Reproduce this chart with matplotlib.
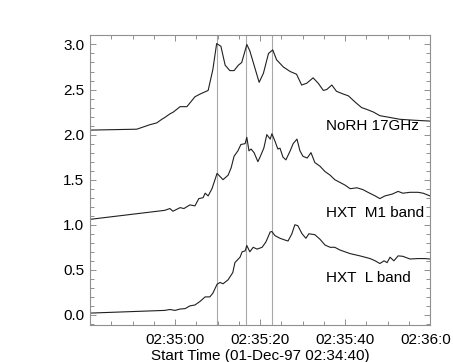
import numpy as np
import matplotlib
matplotlib.use('Agg')
import matplotlib.pyplot as plt
from matplotlib.ticker import MultipleLocator
from matplotlib.transforms import ScaledTranslation

plt.rcParams['font.family'] = ['Liberation Sans', 'DejaVu Sans']

# seconds after 02:34:40
norh_t = [0, 11.0, 14.1, 15.7, 16.9, 17.6, 18.8, 19.6, 21.2, 22.8, 24.7, 25.9, 27.8, 28.9,
          29.8, 30.8, 31.8, 32.9, 33.9, 34.9, 35.7, 36.9, 37.6, 39.8, 40.8, 42.0, 43.0,
          43.9, 45.5, 47.1, 48.6, 49.8, 51.0, 52.5, 53.7, 54.9, 55.7, 56.9, 58.0, 59.6,
          60.8, 62.4, 63.9, 65.1, 66.7, 68.2, 70.6, 72.9, 76.1, 80]
norh_v = [2.05, 2.06, 2.11, 2.13, 2.17, 2.19, 2.23, 2.25, 2.31, 2.31, 2.42, 2.45, 2.49, 2.72,
          3.01, 2.98, 2.77, 2.71, 2.71, 2.77, 2.80, 3.00, 2.93, 2.58, 2.68, 2.90, 2.94,
          2.83, 2.75, 2.70, 2.67, 2.55, 2.57, 2.63, 2.57, 2.49, 2.50, 2.55, 2.48, 2.45,
          2.43, 2.36, 2.30, 2.28, 2.25, 2.21, 2.19, 2.17, 2.16, 2.15]

m1_t = [0, 14.1, 17.6, 18.8, 19.5, 21.2, 22.1, 23.5, 24.7, 25.6, 26.6, 27.1, 27.8, 28.7,
        29.9, 31.3, 32.5, 33.2, 33.9, 34.8, 35.5, 36.5, 36.9, 37.4, 37.9, 38.6, 39.5,
        40.0, 40.9, 41.6, 42.4, 42.8, 43.5, 44.2, 44.7, 45.4, 46.1, 47.1, 47.8, 48.7,
        49.4, 50.1, 51.1, 52.0, 52.9, 54.1, 55.3, 56.5, 57.6, 58.8, 60.0, 61.2, 62.8,
        64.2, 65.4, 67.1, 68.2, 69.4, 71.1, 72.5, 73.6, 75.3, 77.2, 78.4, 80]
m1_v = [1.06, 1.14, 1.16, 1.18, 1.15, 1.19, 1.18, 1.22, 1.21, 1.29, 1.30, 1.35, 1.32, 1.40,
        1.57, 1.50, 1.55, 1.63, 1.76, 1.82, 1.89, 1.90, 1.97, 1.82, 1.84, 1.80, 1.70,
        1.75, 1.85, 2.00, 1.95, 2.01, 1.93, 1.84, 1.85, 1.75, 1.72, 1.82, 1.90, 1.95,
        1.82, 1.76, 1.74, 1.80, 1.69, 1.65, 1.59, 1.55, 1.50, 1.47, 1.44, 1.40, 1.41,
        1.39, 1.36, 1.32, 1.29, 1.32, 1.34, 1.37, 1.35, 1.36, 1.36, 1.35, 1.32]

l_t = [0, 17.6, 18.8, 20.0, 21.2, 22.4, 23.5, 24.7, 25.9, 27.1, 28.2, 28.9, 29.9, 30.6,
       31.3, 32.5, 33.6, 34.1, 35.3, 35.8, 36.5, 36.9, 37.6, 38.4, 39.3, 40.5, 41.4,
       42.4, 42.8, 43.5, 44.7, 45.9, 46.6, 47.5, 48.2, 48.9, 49.9, 50.8, 51.5, 52.9,
       54.1, 55.3, 56.5, 57.6, 58.8, 61.2, 63.5, 65.9, 67.1, 68.2, 69.2, 69.9, 70.6,
       71.5, 72.5, 73.6, 75.3, 77.2, 78.8, 80]
l_v = [0.02, 0.05, 0.06, 0.05, 0.065, 0.07, 0.10, 0.11, 0.15, 0.20, 0.20, 0.24, 0.34, 0.36,
       0.345, 0.39, 0.47, 0.58, 0.64, 0.70, 0.71, 0.77, 0.70, 0.75, 0.73, 0.75, 0.81,
       0.92, 0.925, 0.88, 0.85, 0.83, 0.82, 0.90, 1.00, 0.99, 0.90, 0.85, 0.90, 0.89,
       0.84, 0.775, 0.75, 0.75, 0.72, 0.68, 0.655, 0.625, 0.60, 0.57, 0.60, 0.58, 0.64,
       0.60, 0.655, 0.65, 0.62, 0.625, 0.625, 0.62]

peak_t = [29.8, 36.8, 42.9]

xticks = [20, 40, 60, 80]
xticklabels = ['02:35:00', '02:35:20', '02:35:40', '02:36:0']

labels = ['NoRH 17GHz', 'HXT  M1 band', 'HXT  L band']
label_y = [2.09, 1.13, 0.41]

fig = plt.figure(figsize=(4.53, 3.62), dpi=100)
ax = fig.add_axes([90 / 453, 1 - 325 / 362, 340 / 453, 290 / 362])

for t in peak_t:
    ax.axvline(t, color='#a8a8a8', lw=0.8)

for tt, vv in [(norh_t, norh_v), (m1_t, m1_v), (l_t, l_v)]:
    ax.plot(tt, vv, color='#202020', lw=0.8)

for lab, yy in zip(labels, label_y):
    ax.text(55.6, yy, lab, fontsize=11, va='center', ha='left')

ax.set_xlim(0, 80)
ax.set_ylim(-0.112, 3.105)
ax.set_xticks(xticks)
ax.set_xticklabels(xticklabels)
ax.xaxis.set_minor_locator(MultipleLocator(5))
ax.yaxis.set_major_locator(MultipleLocator(0.5))
ax.yaxis.set_minor_locator(MultipleLocator(0.1))
ax.yaxis.set_major_formatter(plt.FuncFormatter(lambda v, p: '%.1f' % v))

for s in ax.spines.values():
    s.set_color('#909090')
    s.set_linewidth(0.8)
ax.tick_params(which='both', direction='in', top=True, right=True,
               color='#909090', width=0.7, labelsize=11, labelcolor='black')
ax.tick_params(which='major', length=4.5)
ax.tick_params(which='minor', length=3.2)
ax.tick_params(axis='x', pad=6)
ax.tick_params(axis='y', pad=4)

# last label sits against the right edge of the picture
last = ax.get_xticklabels()[-1]
last.set_ha('right')
last.set_transform(last.get_transform() + ScaledTranslation(21 / 100, 0, fig.dpi_scale_trans))

ax.set_xlabel('Start Time (01-Dec-97 02:34:40)', fontsize=11, labelpad=1)

fig.savefig('out.png', dpi=100)
